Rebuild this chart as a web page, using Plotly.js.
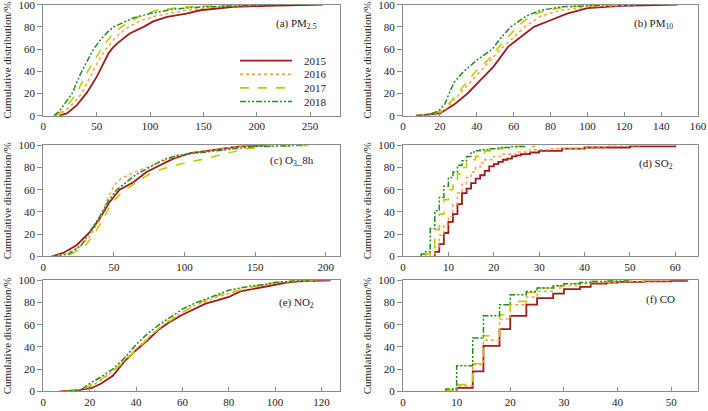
<!DOCTYPE html>
<html>
<head>
<meta charset="utf-8">
<script src="https://cdn.plot.ly/plotly-3.0.1.min.js"></script>
<style>html,body{margin:0;padding:0;background:#fff;}#chart{width:708px;height:411px;}</style>
</head>
<body>
<div id="chart"></div>
<script>
// ---------------- data ----------------
var years = ['2015', '2016', '2017', '2018'];
var colors = ['#9b1b1e', '#ff9a3c', '#c8c800', '#1e8c1e'];
var dashes = ['solid', 'dot', 'dash', '6px,2px,2px,2px,2px,2px'];
var widths = [1.8, 1.4, 1.6, 1.5];

// (a) PM2.5
var pm25_x_2015 = [15, 22, 31, 41, 50, 55, 58, 61, 64, 69, 81, 94, 103, 116, 134, 147, 178, 209, 262];
var pm25_y_2015 = [0, 2, 9, 21, 35, 45, 51, 56, 60, 65, 74, 80, 85, 89, 92, 95, 98, 99, 100];
var pm25_x_2016 = [12, 20, 28, 36, 45, 52, 58, 68, 80, 92, 106, 134, 162, 209];
var pm25_y_2016 = [0, 4, 11, 20, 37, 50, 59, 71, 80, 86, 90, 95, 98, 100];
var pm25_x_2017 = [11, 18, 25, 31, 41, 50, 55, 62, 73, 91, 106, 134, 194];
var pm25_y_2017 = [0, 4, 12, 20, 39, 54, 61, 70, 80, 90, 95, 98, 100];
var pm25_x_2018 = [10, 15, 21, 27, 35, 47, 55, 61, 66, 84, 100, 122, 147, 225];
var pm25_y_2018 = [0, 4, 12, 20, 38, 60, 70, 76, 80, 88, 92, 96, 98, 100];

// (b) PM10
var pm10_x_2015 = [7, 14, 20, 27.7, 35, 42, 49, 57, 64, 71, 80, 89, 100, 118, 149];
var pm10_y_2015 = [0, 1, 2, 10, 20, 32, 44, 62, 71, 80, 86, 92, 97, 99, 100];
var pm10_x_2016 = [7, 15, 22, 31, 42, 53, 66, 75, 86, 100, 127];
var pm10_y_2016 = [0, 1, 4, 20, 40, 60, 80, 90, 95, 98, 100];
var pm10_x_2017 = [7, 15, 22, 29.5, 39.5, 46, 51, 62, 69, 78, 89, 118];
var pm10_y_2017 = [0, 1, 5, 20, 40, 50, 60, 80, 90, 95, 98, 100];
var pm10_x_2018 = [7, 14, 19, 22.6, 25, 27.7, 33, 40, 48.5, 53, 58.4, 67, 74.7, 85.5, 113];
var pm10_y_2018 = [0, 1, 4, 10, 20, 30, 40, 50, 60, 70, 80, 90, 95, 98, 100];

// (c) O3_8h
var o3_x_2015 = [6, 14, 23.6, 33, 40, 47, 54, 64, 73, 83, 92, 104, 123, 139, 158];
var o3_y_2015 = [0, 3, 10, 22, 34, 49, 60, 67, 76, 82, 88, 93, 96, 99, 100];
var o3_x_2016 = [6, 15, 25, 33, 40, 45, 50, 55, 65, 75, 85, 95, 110, 125, 140, 170];
var o3_y_2016 = [0, 2, 8, 18, 33, 50, 64, 70, 76, 81, 86, 90, 94, 97, 99, 100];
var o3_x_2017 = [6, 20, 30, 37, 43, 48, 55, 65, 75, 85, 100, 115, 130, 145, 160, 195];
var o3_y_2017 = [0, 2, 10, 22, 35, 47, 57, 66, 74, 79, 84, 88, 93, 97, 99, 100];
var o3_x_2018 = [6, 18, 27, 33, 40, 46, 52, 58, 66, 75, 85, 95, 110, 130, 150, 185];
var o3_y_2018 = [0, 2, 10, 22, 36, 50, 60, 66, 74, 80, 87, 91, 93, 96, 99, 100];

// (d) SO2
var so2_x_2015 = [7, 7, 8, 9, 10, 11, 12, 13, 14, 15, 16, 17, 18, 19, 20, 21, 22, 23, 24, 25, 26, 28, 30, 35, 40, 50, 60];
var so2_y_2015 = [0, 4, 11, 21, 31, 38, 47, 57, 61, 66, 70, 73, 77, 81, 83, 85, 87, 88, 90, 91, 92, 93.5, 95, 97, 98, 99, 100];
var so2_x_2016 = [6, 6, 7, 8, 9, 10, 11, 12, 13, 14, 15, 16, 17, 18, 20, 22, 25, 28, 32, 40, 45, 52];
var so2_y_2016 = [0, 2, 8, 19, 29, 36, 47, 57, 65, 71, 76, 80, 84, 87, 90, 92, 94, 96, 97, 98.5, 99.5, 100];
var so2_x_2017 = [5, 5, 6, 7, 8, 9, 10, 11, 12, 13, 14, 15, 16, 17, 18, 20, 22, 25, 29];
var so2_y_2017 = [0, 2, 8, 24, 38, 51, 60, 66, 74, 80, 84, 87, 90, 93, 95, 97, 98, 99, 100];
var so2_x_2018 = [4, 4, 5, 6, 7, 8, 9, 10, 11, 12, 13, 14, 15, 16, 17, 19, 21, 24, 27];
var so2_y_2018 = [0, 2, 4, 25, 41, 53, 63, 71, 76, 82, 86, 90, 94, 95, 96, 97, 98, 99, 100];

// (e) NO2
var no2_x_2015 = [7, 15, 21, 25, 30, 35, 40, 45, 50, 55, 60, 65, 70, 75, 80, 85, 90, 95, 100, 105, 110, 124];
var no2_y_2015 = [0, 1, 3, 7, 14, 27, 37, 46, 56, 63, 69, 74, 79, 82, 85, 90, 92, 94, 96, 98, 99, 100];
var no2_x_2016 = [7, 15, 20, 25, 30, 35, 40, 45, 50, 55, 60, 65, 70, 75, 80, 85, 90, 95, 100, 110, 118];
var no2_y_2016 = [0, 1, 4, 10, 18, 28, 38, 48, 57, 65, 71, 77, 81, 85, 88, 91, 93, 96, 98, 99.5, 100];
var no2_x_2017 = [10, 15, 20, 25, 30, 35, 40, 45, 50, 55, 60, 65, 70, 75, 80, 85, 90, 95, 100, 110, 120];
var no2_y_2017 = [0, 1, 5, 11, 18, 27, 37, 47, 57, 64, 71, 77, 82, 86, 89, 91, 94, 96, 98, 99.5, 100];
var no2_x_2018 = [10, 16, 20, 25, 30, 35, 40, 45, 50, 55, 60, 65, 70, 75, 80, 85, 90, 95, 100, 108, 115];
var no2_y_2018 = [0, 1, 7, 13, 20, 30, 42, 52, 60, 67, 74, 79, 83, 87, 91, 93, 95, 96, 98, 99.5, 100];

// (f) CO
var co_x_2015 = [10, 10, 13, 15, 18, 20, 23, 25, 28, 30, 33, 35, 38, 40, 45, 50, 53];
var co_y_2015 = [0, 3, 18, 41, 56, 68, 78, 84, 88, 92, 94, 97, 98, 98.5, 99, 99.5, 100];
var co_x_2016 = [8, 8, 10, 13, 15, 18, 20, 23, 25, 28, 30, 33, 35, 40, 45, 50];
var co_y_2016 = [0, 1, 5, 24, 46, 65, 78, 85, 90, 93, 95, 97, 98, 99, 99.5, 100];
var co_x_2017 = [8, 8, 10, 13, 15, 18, 20, 23, 25, 28, 30, 33, 35, 40, 45];
var co_y_2017 = [0, 1, 6, 25, 50, 69, 81, 89, 93, 95, 97, 98, 99, 99.5, 100];
var co_x_2018 = [8, 8, 10, 13, 15, 18, 20, 23, 25, 28, 30, 33, 35, 38, 42];
var co_y_2018 = [0, 2, 23, 48, 68, 78, 87, 90, 93, 95, 97, 98, 99, 99.5, 100];

// panel labels and x-axis settings
var panelLabels = ['(a) PM<sub>2.5</sub>', '(b) PM<sub>10</sub>', '(c) O<sub>3</sub>_8h',
                   '(d) SO<sub>2</sub>', '(e) NO<sub>2</sub>', '(f) CO'];
var xMax = [278, 160, 210, 65, 128, 55];
var xDtick = [50, 20, 50, 10, 20, 10];
var yTitle = 'Cumulative distribution/%';

// ---------------- build ----------------
var panels = [
  [[pm25_x_2015, pm25_y_2015], [pm25_x_2016, pm25_y_2016], [pm25_x_2017, pm25_y_2017], [pm25_x_2018, pm25_y_2018]],
  [[pm10_x_2015, pm10_y_2015], [pm10_x_2016, pm10_y_2016], [pm10_x_2017, pm10_y_2017], [pm10_x_2018, pm10_y_2018]],
  [[o3_x_2015, o3_y_2015], [o3_x_2016, o3_y_2016], [o3_x_2017, o3_y_2017], [o3_x_2018, o3_y_2018]],
  [[so2_x_2015, so2_y_2015], [so2_x_2016, so2_y_2016], [so2_x_2017, so2_y_2017], [so2_x_2018, so2_y_2018]],
  [[no2_x_2015, no2_y_2015], [no2_x_2016, no2_y_2016], [no2_x_2017, no2_y_2017], [no2_x_2018, no2_y_2018]],
  [[co_x_2015, co_y_2015], [co_x_2016, co_y_2016], [co_x_2017, co_y_2017], [co_x_2018, co_y_2018]]
];
var stepPanels = [false, false, false, true, false, true];

var W = 708, H = 411;
var colDom = [[43.3 / W, 340 / W], [403 / W, 698 / W]];
var rowPx = [[4.7, 115.7], [145.3, 256.3], [280.3, 391.3]];
var FONT = 'Liberation Serif, Times New Roman, serif';

var data = [];
var layout = {
  width: W, height: H,
  margin: {l: 0, r: 0, t: 0, b: 0},
  paper_bgcolor: '#fff', plot_bgcolor: '#fff',
  showlegend: false,
  font: {family: FONT, size: 11, color: '#222'},
  annotations: [], shapes: []
};

var labelPos = [[0.852, 0.83], [0.848, 0.83], [0.838, 0.86], [0.856, 0.83], [0.855, 0.80], [0.874, 0.83]];

for (var p = 0; p < 6; p++) {
  var row = Math.floor(p / 2), col = p % 2;
  var xa = 'xaxis' + (p === 0 ? '' : (p + 1));
  var ya = 'yaxis' + (p === 0 ? '' : (p + 1));
  var xr = 'x' + (p === 0 ? '' : (p + 1));
  var yr = 'y' + (p === 0 ? '' : (p + 1));
  for (var s = 0; s < 4; s++) {
    data.push({
      type: 'scatter', mode: 'lines', name: years[s],
      x: panels[p][s][0], y: panels[p][s][1],
      xaxis: xr, yaxis: yr,
      line: {color: colors[s], dash: dashes[s], width: widths[s], shape: stepPanels[p] ? 'hv' : 'linear'},
      hoverinfo: 'skip'
    });
  }
  layout[xa] = {
    domain: colDom[col], anchor: yr, range: [0, xMax[p]], dtick: xDtick[p], tick0: 0,
    showgrid: false, zeroline: false, showline: true, mirror: true,
    linecolor: '#8a8a8a', linewidth: 1, ticks: 'inside', ticklen: 4, tickcolor: '#8a8a8a',
    ticklabeloverflow: 'allow',
    tickfont: {family: FONT, size: 11, color: '#222'}
  };
  layout[ya] = {
    domain: [1 - rowPx[row][1] / H, 1 - rowPx[row][0] / H], anchor: xr, range: [0, 100], dtick: 20,
    showgrid: false, zeroline: false, showline: true, mirror: true,
    linecolor: '#8a8a8a', linewidth: 1, ticks: 'outside', ticklen: 5, tickcolor: '#8a8a8a',
    ticklabeloverflow: 'allow',
    tickfont: {family: FONT, size: 11, color: '#222'},
    title: {text: yTitle, font: {family: FONT, size: 11, color: '#222'}, standoff: 4}
  };
  layout.annotations.push({
    xref: xr + ' domain', yref: yr + ' domain',
    x: labelPos[p][0], y: labelPos[p][1], xanchor: 'center', yanchor: 'middle', showarrow: false,
    text: panelLabels[p], font: {family: FONT, size: 11, color: '#222'}
  });
}

// manual legend in panel (a)
for (var k = 0; k < 4; k++) {
  var yy = 1 - (56 + 13.6 * k) / 111;
  layout.shapes.push({
    type: 'line', xref: 'x domain', yref: 'y domain',
    x0: (240 - 43.3) / 296.7, x1: (292 - 43.3) / 296.7, y0: yy, y1: yy,
    line: {color: colors[k], dash: dashes[k], width: widths[k]}
  });
  layout.annotations.push({
    xref: 'x domain', yref: 'y domain', x: (302 - 43.3) / 296.7, y: yy,
    xanchor: 'left', yanchor: 'middle', showarrow: false, text: years[k],
    font: {family: FONT, size: 11, color: '#222'}
  });
}

Plotly.newPlot('chart', data, layout, {staticPlot: true, displayModeBar: false});
</script>
</body>
</html>
